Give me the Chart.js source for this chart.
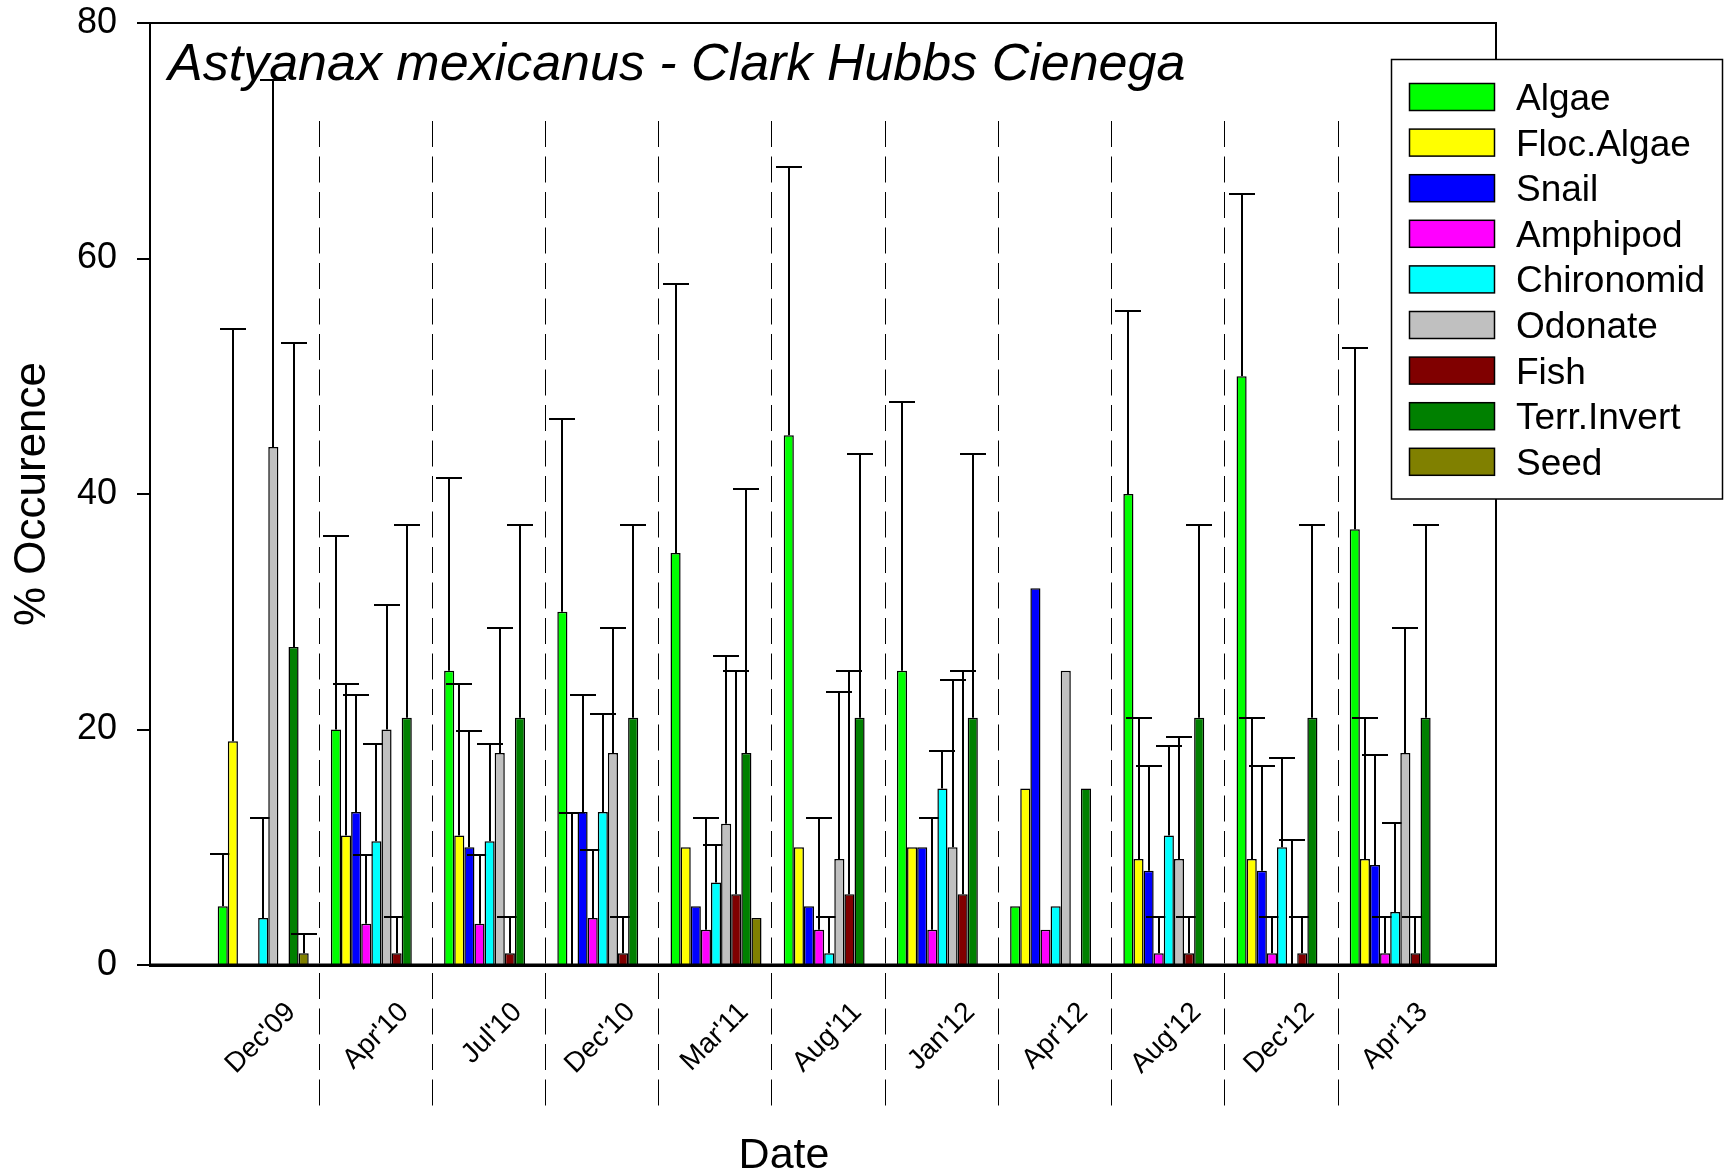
<!DOCTYPE html>
<html lang="en">
<head>
<meta charset="UTF-8" />
<title>Astyanax mexicanus - Clark Hubbs Cienega</title>
<script src="https://cdn.jsdelivr.net/npm/chart.js"></script>
<style>
  html, body { margin: 0; padding: 0; background: #fff; }
  #wrap { width: 1725px; height: 1175px; }
</style>
</head>
<body>
<div id="wrap"><canvas id="dietChart" width="1725" height="1175"></canvas></div>

<script>
// sampling dates
const fechas = ["Dec'09", "Apr'10", "Jul'10", "Dec'10", "Mar'11", "Aug'11", "Jan'12", "Apr'12", "Aug'12", "Dec'12", "Apr'13"];

// % occurrence of each diet item
const algae      = [5, 20, 25, 30, 35, 45, 25, 5, 40, 50, 37];
const flocAlgae  = [19, 11, 11, 0, 10, 10, 10, 15, 9, 9, 9];
const snail      = [0, 13, 10, 13, 5, 5, 10, 32, 8, 8, 8.5];
const amphipod   = [0, 3.5, 3.5, 4, 3, 3, 3, 3, 1, 1, 1];
const chironomid = [4, 10.5, 10.5, 13, 7, 1, 15, 5, 11, 10, 4.5];
const odonate    = [44, 20, 18, 18, 12, 9, 10, 25, 9, 0, 18];
const fish       = [0, 1, 1, 1, 6, 6, 6, 0, 1, 1, 1];
const terrInvert = [27, 21, 21, 21, 18, 21, 21, 15, 21, 21, 21];
const seed       = [1, 0, 0, 0, 4, 0, 0, 0, 0, 0, 0];

// upper error (null = no bar)
const algaeErr      = [4.4, 16.4, 16.4, 16.4, 22.8, 22.8, 22.8, null, 15.5, 15.5, 15.4];
const flocAlgaeErr  = [35, 12.9, 12.9, 12.9, null, null, null, null, 12, 12, 12];
const snailErr      = [null, 9.9, 9.9, 9.9, null, null, null, null, 8.9, 8.9, 9.3];
const amphipodErr   = [null, 5.8, 5.8, 5.8, 9.5, 9.5, 9.5, null, 3.1, 3.1, 3.1];
const chironomidErr = [8.5, 8.3, 8.3, 8.3, 3.2, 3.1, 3.2, null, 7.6, 7.6, 7.6];
const odonateErr    = [31.2, 10.6, 10.6, 10.6, 14.2, 14.2, 14.2, null, 10.4, 10.6, 10.6];
const fishErr       = [null, 3.1, 3.1, 3.1, 19, 19, 19, null, 3.1, 3.1, 3.1];
const terrInvertErr = [25.8, 16.4, 16.4, 16.4, 22.4, 22.4, 22.4, null, 16.4, 16.4, 16.4];
const seedErr       = [1.6, null, null, null, null, null, null, null, null, null, null];

const items = ["Algae", "Floc.Algae", "Snail", "Amphipod", "Chironomid", "Odonate", "Fish", "Terr.Invert", "Seed"];
const valores = [algae, flocAlgae, snail, amphipod, chironomid, odonate, fish, terrInvert, seed];
const errores = [algaeErr, flocAlgaeErr, snailErr, amphipodErr, chironomidErr, odonateErr, fishErr, terrInvertErr, seedErr];
const colores = ["#00ff00", "#ffff00", "#0000ff", "#ff00ff", "#00ffff", "#c0c0c0", "#800000", "#008000", "#808000"];

const titulo = "Astyanax mexicanus - Clark Hubbs Cienega";
const FONT = '"Liberation Sans", Arial, sans-serif';

const decor = {
  id: "decor",
  beforeDatasetsDraw(chart) {
    const { ctx, chartArea: a, scales: { x, y } } = chart;

    // dashed separators between dates
    ctx.save();
    ctx.strokeStyle = "#000";
    ctx.lineWidth = 1;
    ctx.setLineDash([26, 9.5]);
    for (let i = 0; i < fechas.length - 1; i++) {
      const px = Math.round(x.getPixelForValue(i + 0.49)) + 0.5;
      ctx.beginPath();
      ctx.moveTo(px, a.top + 98);
      ctx.lineTo(px, a.bottom + 141);
      ctx.stroke();
    }
    ctx.restore();

    // bars then their error bars, item by item, so the next bar covers the cap
    chart.data.datasets.forEach((ds, i) => {
      const meta = chart.getDatasetMeta(i);
      meta.data.forEach(el => el.draw(ctx));
      ctx.save();
      ctx.strokeStyle = "#000";
      ctx.lineWidth = 2;
      meta.data.forEach((el, j) => {
        const e = errores[i][j];
        if (e == null) return;
        const top = Math.round(y.getPixelForValue(valores[i][j] + e));
        const cx = Math.round(el.x);
        ctx.beginPath();
        ctx.moveTo(cx, el.y);
        ctx.lineTo(cx, top);
        ctx.moveTo(cx - 13, top);
        ctx.lineTo(cx + 13, top);
        ctx.stroke();
      });
      ctx.restore();
    });
    return false;
  },
  afterDraw(chart) {
    const { ctx, chartArea: a } = chart;
    ctx.save();

    // frame
    ctx.strokeStyle = "#000";
    ctx.lineWidth = 2;
    ctx.beginPath();
    ctx.moveTo(a.left, a.top);
    ctx.lineTo(a.right, a.top);
    ctx.lineTo(a.right, a.bottom);
    ctx.stroke();
    ctx.lineWidth = 3;
    ctx.beginPath();
    ctx.moveTo(a.left - 1, a.bottom);
    ctx.lineTo(a.right + 1, a.bottom);
    ctx.stroke();

    // title inside the plot
    ctx.fillStyle = "#000";
    ctx.font = "italic 52px " + FONT;
    ctx.textAlign = "left";
    ctx.textBaseline = "alphabetic";
    ctx.fillText(titulo, a.left + 18, a.top + 57);

    // x axis title
    ctx.font = "43px " + FONT;
    ctx.textAlign = "center";
    ctx.fillText("Date", 784, 1168);

    // legend box
    const lx = 1391.5, ly = 59.5;
    ctx.fillStyle = "#fff";
    ctx.fillRect(lx, ly, 331, 439.5);
    ctx.strokeStyle = "#000";
    ctx.lineWidth = 1.5;
    ctx.strokeRect(lx, ly, 331, 439.5);
    ctx.font = "37px " + FONT;
    ctx.textAlign = "left";
    items.forEach((name, i) => {
      const sy = ly + 24 + i * 45.6;
      ctx.fillStyle = colores[i];
      ctx.fillRect(lx + 18, sy, 85, 27);
      ctx.strokeStyle = "#000";
      ctx.lineWidth = 1.5;
      ctx.strokeRect(lx + 18, sy, 85, 27);
      ctx.fillStyle = "#000";
      ctx.fillText(name, lx + 124.5, sy + 26.5);
    });
    ctx.restore();
  }
};

new Chart(document.getElementById("dietChart"), {
  type: "bar",
  data: {
    datasets: items.map((name, i) => ({
      label: name,
      data: valores[i].map((v, j) => ({ x: j, y: v })),
      backgroundColor: colores[i],
      borderColor: "#000",
      borderWidth: 1.5,
      categoryPercentage: 0.804,
      barPercentage: 1.0
    }))
  },
  options: {
    responsive: false,
    animation: false,
    devicePixelRatio: 1,
    layout: { padding: { top: 23, right: 229, left: 0, bottom: 0 } },
    plugins: { legend: { display: false }, tooltip: { enabled: false } },
    scales: {
      x: {
        type: "linear",
        min: -1,
        max: 10.89,
        offset: false,
        afterBuildTicks: axis => { axis.ticks = fechas.map((f, i) => ({ value: i })); },
        afterFit: s => { s.height = 210; s.paddingLeft = 0; s.paddingRight = 0; },
        ticks: {
          autoSkip: false,
          minRotation: 45,
          maxRotation: 45,
          padding: 23,
          labelOffset: 28,
          color: "#000",
          font: { family: FONT, size: 28 },
          callback: v => fechas[v] ?? ""
        },
        grid: { display: false, offset: false },
        border: { color: "#000", width: 3 }
      },
      y: {
        min: 0,
        max: 80,
        afterFit: s => { s.width = 150; s.paddingTop = 0; s.paddingBottom = 0; },
        ticks: {
          stepSize: 20,
          padding: 20,
          color: "#000",
          font: { family: FONT, size: 36 }
        },
        grid: { drawOnChartArea: false, tickLength: 13, color: "#000", lineWidth: 2 },
        border: { color: "#000", width: 2 },
        title: {
          display: true,
          text: "% Occurence",
          color: "#000",
          font: { family: FONT, size: 44 },
          padding: { top: 6, bottom: 0 }
        }
      }
    }
  },
  plugins: [decor]
});
</script>
</body>
</html>
